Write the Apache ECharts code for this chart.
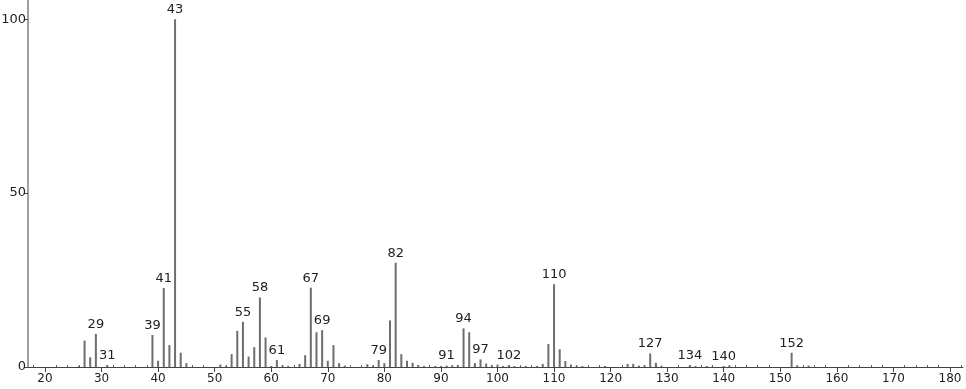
<!DOCTYPE html>
<html><head><meta charset="utf-8">
<script src="https://cdn.jsdelivr.net/npm/echarts@6/dist/echarts.min.js"></script>
<style>html,body{margin:0;padding:0;background:#fff}#c{width:966px;height:389px}</style>
</head><body><div id="c"></div>
<script>
const masses = [26,27,28,29,31,39,40,41,42,43,44,45,51,52,53,54,55,56,57,58,59,60,61,62,63,65,66,67,68,69,70,71,72,73,77,78,79,80,81,82,83,84,85,86,87,89,90,91,92,93,94,95,96,97,98,99,100,101,102,103,105,107,108,109,110,111,112,113,114,115,119,123,124,125,126,127,128,129,134,135,137,140,141,152,153,155];
const intensities = [0.3,7.6,2.8,9.5,0.6,9.2,1.8,22.7,6.3,100,4.1,1.1,0.7,0.3,3.7,10.4,13,3.0,5.7,20,8.5,0.3,2.0,0.5,0.3,0.9,3.4,22.8,10.0,10.6,1.8,6.3,1.1,0.4,0.8,0.4,2.0,1.1,13.4,30,3.7,1.8,1.2,0.6,0.3,0.3,0.3,0.4,0.5,0.6,11.1,10,1.1,2.2,1.0,0.6,0.7,0.3,0.5,0.3,0.3,0.3,0.9,6.6,23.8,5.1,1.7,0.7,0.4,0.3,0.3,0.9,0.9,0.4,0.5,3.9,1.2,0.4,0.5,0.3,0.3,0.3,0.5,4.1,0.5,0.4];
const labeledPeaks = [29,31,39,41,43,55,58,61,67,69,79,82,91,94,97,102,110,127,134,140,152];
const xTicks = [20,30,40,50,60,70,80,90,100,110,120,130,140,150,160,170,180];
const xMinorTicks = [18,22,24,26,28,32,34,36,38,42,44,46,48,52,54,56,58,62,64,66,68,72,74,76,78,82,84,86,88,92,94,96,98,102,104,106,108,112,114,116,118,122,124,126,128,132,134,136,138,142,144,146,148,152,154,156,158,162,164,166,168,172,174,176,178,182];
const yTicks = [0,50,100];

const labelFont = {fontFamily:'DejaVu Sans', fontSize:13, color:'#222'};
const data = masses.map((m,i)=>({
  value:[m, intensities[i]],
  label:{show: labeledPeaks.includes(m)}
}));

const chart = echarts.init(document.getElementById('c'), null, {renderer:'canvas'});
chart.setOption({
  animation:false,
  grid:{left:28, right:3, top:0, bottom:22, containLabel:false, outerBoundsMode:'none'},
  xAxis:[{
    type:'value', min:17, max:182.3,
    splitLine:{show:false},
    axisLine:{onZero:false, lineStyle:{color:'#444', width:1}},
    axisTick:{customValues:xTicks, length:5, lineStyle:{color:'#444'}},
    axisLabel:{customValues:xTicks, fontFamily:'DejaVu Sans', fontSize:12, color:'#222', margin:6}
  },{
    type:'value', min:17, max:182.3, position:'bottom',
    splitLine:{show:false},
    axisLine:{show:false},
    axisTick:{customValues:xMinorTicks, inside:true, length:2, lineStyle:{color:'#666'}},
    axisLabel:{show:false}
  }],
  yAxis:{
    type:'value', min:0, max:105.5,
    splitLine:{show:false},
    axisLine:{show:true, lineStyle:{color:'#a0a0a0', width:2}},
    axisTick:{customValues:yTicks, length:4, lineStyle:{color:'#444'}},
    axisLabel:{customValues:yTicks, fontFamily:'DejaVu Sans', fontSize:13, color:'#222', margin:2}
  },
  series:[{
    type:'bar', xAxisIndex:0, barWidth:2, barGap:'-100%',
    itemStyle:{color:'#6e6e6e'},
    label:Object.assign({show:false, position:'top', distance:3, formatter:p=>String(p.value[0])}, labelFont),
    data:data
  }]
});
</script></body></html>
